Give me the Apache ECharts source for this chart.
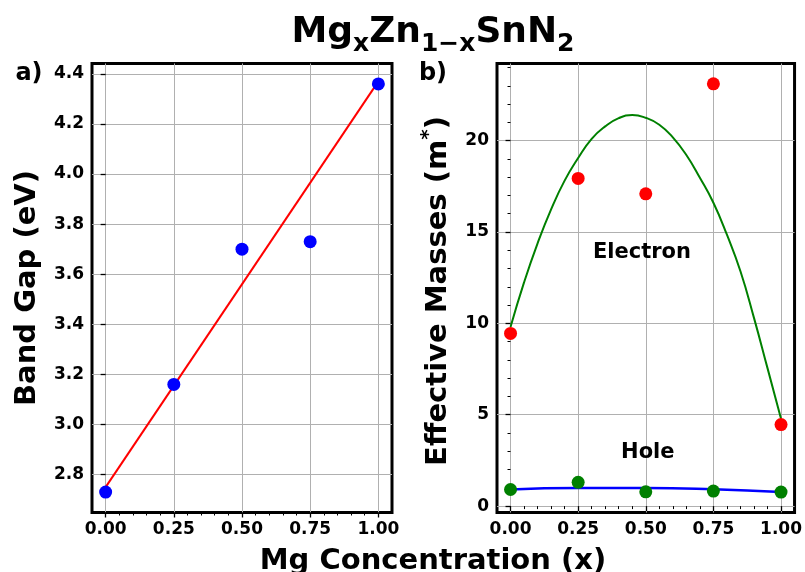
<!DOCTYPE html>
<html>
<head>
<meta charset="utf-8">
<script src="https://cdn.jsdelivr.net/npm/echarts@6/dist/echarts.min.js"></script>
<style>
    html, body { margin: 0; padding: 0; background: #fff; }
    #chart { width: 805px; height: 572px; }
</style>
</head>
<body>
<div id="chart"></div>
<script>
// 数据 --- a) band gap
var mgX = [0, 0.25, 0.5, 0.75, 1.0];
var bandGap = [2.73, 3.16, 3.70, 3.73, 4.36];
var gapFitX = [0, 1.0];
var gapFitY = [2.75, 4.37];

// 数据 --- b) effective masses
var electronMass = [9.45, 17.93, 17.09, 23.11, 4.46];
var holeMass = [0.91, 1.30, 0.78, 0.82, 0.77];
var eFitX = [0, 0.05, 0.1, 0.15, 0.2, 0.25, 0.3, 0.35, 0.4, 0.45, 0.5,
             0.55, 0.6, 0.65, 0.7, 0.75, 0.8, 0.85, 0.9, 0.95, 1.0];
var eFitY = [9.8, 12.24, 14.38, 16.24, 17.81, 19.05, 20.1, 20.78, 21.23, 21.4, 21.25,
             20.87, 20.18, 19.21, 17.97, 16.6, 14.85, 12.85, 10.3, 7.55, 4.78];
var hFitX = [0, 0.25, 0.5, 0.75, 1.0];
var hFitY = [0.91, 0.99, 0.99, 0.92, 0.77];

// 刻度
var xTicks = [0, 0.25, 0.5, 0.75, 1.0];
var xMinorTicks = [0, 0.05, 0.1, 0.15, 0.2, 0.3, 0.35, 0.4, 0.45, 0.55, 0.6, 0.65, 0.7, 0.8, 0.85, 0.9, 0.95];
var gapTicks = [2.8, 3.0, 3.2, 3.4, 3.6, 3.8, 4.0, 4.2, 4.4];
var massTicks = [0, 5, 10, 15, 20];
var massMinorTicks = [1, 2, 3, 4, 6, 7, 8, 9, 11, 12, 13, 14, 16, 17, 18, 19, 21, 22, 23, 24];

var FONT = "DejaVu Sans";

function zip(a, b) {
    return a.map(function (v, i) { return [v, b[i]]; });
}

var gridBase = {
    top: 63.5,
    width: 300,
    height: 449,
    show: true,
    borderColor: "#000",
    borderWidth: 3,
    backgroundColor: "transparent",
};

// 主坐标轴
function mainX(grid) {
    return {
        type: "value", gridIndex: grid, min: -0.05, max: 1.05,
        axisLine: { show: false },
        axisTick: { show: true, customValues: xTicks, length: 5, lineStyle: { color: "#000", width: 1.3 } },
        axisLabel: {
            customValues: xTicks, margin: 9, color: "#000", fontFamily: FONT,
            fontWeight: "bold", fontSize: 17,
            formatter: function (v) { return v.toFixed(2); },
        },
        splitLine: { show: true, lineStyle: { color: "#b0b0b0", width: 1 } },
    };
}
// 次刻度
function minorX(grid) {
    return {
        type: "value", gridIndex: grid, min: -0.05, max: 1.05, position: "bottom",
        axisLine: { show: false },
        axisTick: { show: true, customValues: xMinorTicks, length: 3, lineStyle: { color: "#000", width: 1 } },
        axisLabel: { show: false },
        splitLine: { show: false },
    };
}

var option = {
    animation: false,
    backgroundColor: "#fff",
    grid: [
        Object.assign({ left: 92 }, gridBase),
        Object.assign({ left: 497 }, gridBase),
    ],
    xAxis: [mainX(0), minorX(0), mainX(1), minorX(1)],
    yAxis: [
        {
            type: "value", gridIndex: 0, min: 2.6485, max: 4.4415,
            axisLine: { show: false },
            axisTick: { show: true, customValues: gapTicks, length: 5, lineStyle: { color: "#000", width: 1.3 } },
            axisLabel: {
                customValues: gapTicks, margin: 8, color: "#000", fontFamily: FONT,
                fontWeight: "bold", fontSize: 17,
                formatter: function (v) { return v.toFixed(1); },
            },
            splitLine: { show: true, lineStyle: { color: "#b0b0b0", width: 1 } },
        },
        {
            type: "value", gridIndex: 1, min: -0.35, max: 24.22,
            axisLine: { show: false },
            axisTick: { show: true, customValues: massTicks, length: 5, lineStyle: { color: "#000", width: 1.3 } },
            axisLabel: {
                customValues: massTicks, margin: 8, color: "#000", fontFamily: FONT,
                fontWeight: "bold", fontSize: 17,
            },
            splitLine: { show: true, lineStyle: { color: "#b0b0b0", width: 1 } },
        },
        {
            type: "value", gridIndex: 1, min: -0.35, max: 24.22, position: "left",
            axisLine: { show: false },
            axisTick: { show: true, customValues: massMinorTicks, length: 3, lineStyle: { color: "#000", width: 1 } },
            axisLabel: { show: false },
            splitLine: { show: false },
        },
    ],
    series: [
        // a) 拟合直线
        {
            type: "line", xAxisIndex: 0, yAxisIndex: 0, data: zip(gapFitX, gapFitY),
            symbol: "none", lineStyle: { color: "#ff0000", width: 2 }, z: 2,
        },
        // a) 数据点
        {
            type: "scatter", xAxisIndex: 0, yAxisIndex: 0, data: zip(mgX, bandGap),
            symbolSize: 13, itemStyle: { color: "#0000ff", opacity: 1 }, z: 3,
        },
        // b) 电子拟合曲线
        {
            type: "line", xAxisIndex: 2, yAxisIndex: 1, data: zip(eFitX, eFitY),
            symbol: "none", smooth: 0.5,
            lineStyle: { color: "#008000", width: 2 }, z: 2,
        },
        // b) 空穴拟合曲线
        {
            type: "line", xAxisIndex: 2, yAxisIndex: 1, data: zip(hFitX, hFitY),
            symbol: "none", smooth: 0.5,
            lineStyle: { color: "#0000ff", width: 2.5 }, z: 2,
        },
        // b) 电子
        {
            type: "scatter", xAxisIndex: 2, yAxisIndex: 1, data: zip(mgX, electronMass),
            symbolSize: 13, itemStyle: { color: "#ff0000", opacity: 1 }, z: 3,
        },
        // b) 空穴
        {
            type: "scatter", xAxisIndex: 2, yAxisIndex: 1, data: zip(mgX, holeMass),
            symbolSize: 13, itemStyle: { color: "#008000", opacity: 1 }, z: 3,
        },
        // b) 文字标注
        {
            type: "scatter", xAxisIndex: 2, yAxisIndex: 1, symbolSize: 1,
            itemStyle: { color: "transparent", opacity: 1 }, z: 4,
            data: [[0.303, 13.87, "Electron"], [0.407, 2.91, "Hole"]],
            label: {
                show: true, position: "right", distance: 0, color: "#000", opacity: 1,
                fontFamily: FONT, fontWeight: "bold", fontSize: 21,
                formatter: function (p) { return p.data[2]; },
            },
        },
    ],
    graphic: [
        {
            type: "text", x: 433, y: 36,
            style: {
                text: "{m|Mg}{s|x}{m|Zn}{s|1−x}{m|SnN}{s|2}",
                align: "center", verticalAlign: "middle",
                rich: {
                    m: { fontFamily: FONT, fontWeight: "bold", fontSize: 36, fill: "#000", verticalAlign: "bottom", padding: [0, 0, 6, 0] },
                    s: { fontFamily: FONT, fontWeight: "bold", fontSize: 25, fill: "#000", verticalAlign: "bottom" },
                },
            },
        },
        {
            type: "text", x: 433, y: 561,
            style: {
                text: "Mg Concentration (x)", fontFamily: FONT, fontWeight: "bold",
                fontSize: 29, fill: "#000", align: "center", verticalAlign: "middle",
            },
        },
        {
            type: "text", x: 27, y: 288, rotation: Math.PI / 2,
            style: {
                text: "Band Gap (eV)", fontFamily: FONT, fontWeight: "bold",
                fontSize: 29, fill: "#000", align: "center", verticalAlign: "middle",
            },
        },
        {
            type: "text", x: 436, y: 291, rotation: Math.PI / 2,
            style: {
                text: "{a|Effective Masses (m}{b|*}{a|)}",
                align: "center", verticalAlign: "middle",
                rich: {
                    a: { fontFamily: FONT, fontWeight: "bold", fontSize: 29, fill: "#000", verticalAlign: "bottom" },
                    b: { fontFamily: FONT, fontWeight: "bold", fontSize: 20, fill: "#000", verticalAlign: "bottom", padding: [0, 0, 14, 0] },
                },
            },
        },
        {
            type: "text", x: 29, y: 74,
            style: { text: "a)", fontFamily: FONT, fontWeight: "bold", fontSize: 24, fill: "#000", align: "center", verticalAlign: "middle" },
        },
        {
            type: "text", x: 433, y: 74,
            style: { text: "b)", fontFamily: FONT, fontWeight: "bold", fontSize: 24, fill: "#000", align: "center", verticalAlign: "middle" },
        },
    ],
};

var chart = echarts.init(document.getElementById("chart"));
chart.setOption(option);
</script>
</body>
</html>
